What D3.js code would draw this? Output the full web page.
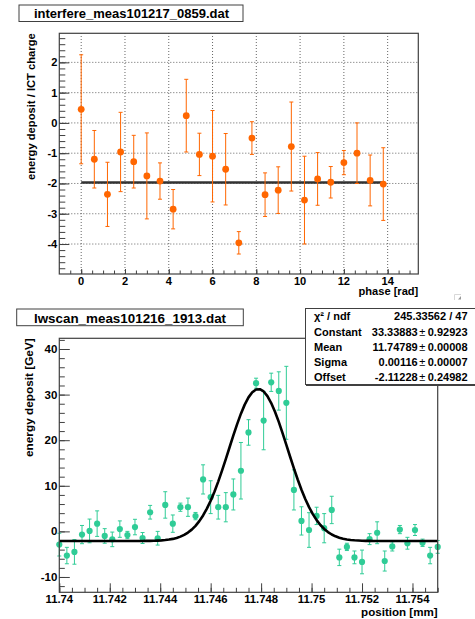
<!DOCTYPE html>
<html><head><meta charset="utf-8">
<script src="https://cdn.jsdelivr.net/npm/d3@7"></script>
<style>
body{margin:0;background:#fff}
text{font-family:"Liberation Sans",Arial,Helvetica,sans-serif;font-weight:bold;fill:#000}
</style>
</head><body>
<svg id="c" width="475" height="619"></svg>
<script>
// ---------- top panel data ----------
const topTitle = "interfere_meas101217_0859.dat";
const phase = [0,0.6,1.2,1.8,2.4,3.0,3.6,4.2,4.8,5.4,6.0,6.6,7.2,7.8,8.4,9.0,9.6,10.2,10.8,11.4,12.0,12.6,13.2,13.8];
const phaseVal = [0.45,-1.2,-2.36,-0.96,-1.28,-1.75,-1.92,-2.85,0.24,-1.04,-1.1,-1.53,-3.96,-0.5,-2.37,-2.22,-0.78,-2.55,-1.85,-1.96,-1.31,-1.0,-1.9,-2.02];
const phaseErr = [1.8,0.95,1.06,1.31,0.87,1.42,0.6,0.65,1.2,0.7,1.51,1.18,0.37,0.54,0.72,0.77,1.47,1.45,0.87,0.52,0.4,1.0,0.84,1.2];
const phaseFitLevel = -1.97;
const phaseFitRange = [0, 13.8];
const topXTicks = [0,2,4,6,8,10,12,14];
const topYTicks = [-4,-3,-2,-1,0,1,2];

// ---------- bottom panel data ----------
const botTitle = "lwscan_meas101216_1913.dat";
const position = [11.7400,11.7403,11.7406,11.7409,11.7412,11.7415,11.7418,11.7421,11.7424,11.7427,
  11.7430,11.7433,11.7436,11.7439,11.7442,11.7445,11.7448,11.7451,11.7454,11.7457,
  11.7460,11.7463,11.7466,11.7469,11.7472,11.7475,11.7478,11.7481,11.7484,11.7487,
  11.7490,11.7493,11.7496,11.7499,11.7502,11.7505,11.7508,11.7511,11.7514,11.7517,
  11.7520,11.7523,11.7526,11.7529,11.7532,11.7535,11.7538,11.7541,11.7544,11.7547,11.7550];
const energy = [-2.9,-5.3,-4.5,-0.7,0.1,1.7,-1.0,-1.75,0.5,-0.8,0.95,-1.45,4.2,-1.5,5.8,1.7,5.3,5.3,3.35,11.4,
  7.5,5.3,5.3,8.1,13.3,21.7,32.5,24.3,32.7,30.8,28.2,9.1,2.3,0.3,3.4,0.7,4.7,-5.7,-3.4,-5.7,
  -6.7,-1.7,-0.3,-6.5,-3.3,0.4,-2.6,0.3,-2.5,-5.3,-3.4];
const energyErr = [2.5,1.8,2.7,2.0,2.6,2.8,1.6,1.6,1.8,0.8,1.7,1.2,1.5,1.5,2.9,1.9,0.9,2.0,0.8,3.2,
  3.6,2.6,3.2,3.4,6.2,2.8,1.1,6.4,2.0,4.2,8.0,4.4,3.1,3.8,1.9,3.2,3.0,1.8,0.8,1.4,
  2.6,1.2,2.4,2.2,1.0,0.9,1.3,1.2,0.8,1.8,1.4];
const fitConstant = 33.33883, fitMean = 11.74789, fitSigma = 0.00116, fitOffset = -2.11228;
const statLabels = ["\u03c7\u00b2 / ndf","Constant","Mean","Sigma","Offset"];
const statValues = ["245.33562 / 47","33.33883","11.74789","0.00116","-2.11228"];
const statErrors = [null,"0.92923","0.00008","0.00007","0.24982"];
const botXTicks = [11.740,11.742,11.744,11.746,11.748,11.750,11.752,11.754];
const botXTickLabels = ["11.74","11.742","11.744","11.746","11.748","11.75","11.752","11.754"];
const botYTicks = [-10,0,10,20,30,40];

const svg = d3.select("#c");
const FR = "#404040";
const ORANGE = "#ff6600";
const TEAL = "#2fcc96";

// ================= TOP PANEL =================
const xT = d3.scaleLinear().domain([-1, 15.4]).range([59.3, 418.3]);
const yT = d3.scaleLinear().domain([-4.99, 2.96]).range([274, 33.3]);
const gT = svg.append("g");

// grid
gT.selectAll("line.gx").data(topXTicks).join("line")
  .attr("x1", d=>xT(d)).attr("x2", d=>xT(d)).attr("y1", yT.range()[0]).attr("y2", yT.range()[1])
  .attr("stroke","#555").attr("stroke-width",0.9).attr("stroke-dasharray","1 2");
gT.selectAll("line.gy").data(topYTicks).join("line")
  .attr("x1", xT.range()[0]).attr("x2", xT.range()[1]).attr("y1", d=>yT(d)).attr("y2", d=>yT(d))
  .attr("stroke","#555").attr("stroke-width",0.9).attr("stroke-dasharray","1 2");

// axes ticks
function ticks(g, axis){ g.call(axis); g.select(".domain").remove(); g.selectAll(".tick line").attr("stroke",FR); }
ticks(gT.append("g").attr("transform",`translate(0,${yT.range()[0]})`),
  d3.axisBottom(xT).tickValues(d3.range(-0.5,15.01,0.5)).tickSize(-3.5).tickFormat(""));
ticks(gT.append("g").attr("transform",`translate(0,${yT.range()[0]})`),
  d3.axisBottom(xT).tickValues(topXTicks).tickSize(-5).tickFormat(""));
ticks(gT.append("g").attr("transform",`translate(${xT.range()[0]},0)`),
  d3.axisLeft(yT).tickValues(d3.range(-4.8,2.81,0.2)).tickSize(-6).tickFormat(""));
ticks(gT.append("g").attr("transform",`translate(${xT.range()[0]},0)`),
  d3.axisLeft(yT).tickValues(topYTicks).tickSize(-10).tickFormat(""));

// tick labels
gT.selectAll("text.xl").data(topXTicks).join("text")
  .attr("x", d=>xT(d)).attr("y", 284.5).attr("text-anchor","middle").attr("font-size",11.1).text(d=>d);
gT.selectAll("text.yl").data(topYTicks).join("text")
  .attr("x", 57.3).attr("y", d=>yT(d)+4).attr("text-anchor","end").attr("font-size",11.1).text(d=>d);

// fit line
gT.append("line").attr("x1",xT(phaseFitRange[0])).attr("x2",xT(phaseFitRange[1]))
  .attr("y1",yT(phaseFitLevel)).attr("y2",yT(phaseFitLevel)).attr("stroke","#333").attr("stroke-width",2.4);

// error bars
const eT = gT.append("g").attr("stroke",ORANGE).attr("stroke-width",1);
phase.forEach((p,i)=>{
  const x = xT(p), y1 = yT(phaseVal[i]+phaseErr[i]), y2 = yT(phaseVal[i]-phaseErr[i]);
  eT.append("line").attr("x1",x).attr("x2",x).attr("y1",y1).attr("y2",y2);
  eT.append("line").attr("x1",x-2).attr("x2",x+2).attr("y1",y1).attr("y2",y1);
  eT.append("line").attr("x1",x-2).attr("x2",x+2).attr("y1",y2).attr("y2",y2);
});
gT.selectAll("circle").data(phase).join("circle")
  .attr("cx", d=>xT(d)).attr("cy",(d,i)=>yT(phaseVal[i])).attr("r",3.4).attr("fill",ORANGE);

// frame
gT.append("rect").attr("x",xT.range()[0]).attr("y",yT.range()[1])
  .attr("width",xT.range()[1]-xT.range()[0]).attr("height",yT.range()[0]-yT.range()[1])
  .attr("fill","none").attr("stroke",FR).attr("stroke-width",1.2);

// axis titles
gT.append("text").attr("x",418.3).attr("y",295).attr("text-anchor","end").attr("font-size",11.1).text("phase [rad]");
gT.append("text").attr("transform","translate(34.5,33.3) rotate(-90)").attr("text-anchor","end")
  .attr("font-size",11.2).text("energy deposit / ICT charge");

// title box
gT.append("rect").attr("x",19).attr("y",5).attr("width",224).attr("height",16.5)
  .attr("fill","#fff").attr("stroke",FR).attr("stroke-width",1);
gT.append("text").attr("x",131.5).attr("y",18.3).attr("text-anchor","middle").attr("font-size",13).text(topTitle);

// small corner mark
gT.append("path").attr("d","M454.5,300 V294.5 H461").attr("fill","none").attr("stroke","#d8d8d8");
gT.append("path").attr("d","M458,299.5 L461,296 V299.5 Z").attr("fill","#999");

// ================= BOTTOM PANEL =================
const xB = d3.scaleLinear().domain([11.74, 11.755]).range([59.3, 437.7]);
const yB = d3.scaleLinear().domain([-13.36, 42.35]).range([592.3, 338.3]);
const gB = svg.append("g");

ticks(gB.append("g").attr("transform",`translate(0,${yB.range()[0]})`),
  d3.axisBottom(xB).tickValues(d3.range(11.7400,11.75501,0.0005)).tickSize(-4.5).tickFormat(""));
ticks(gB.append("g").attr("transform",`translate(0,${yB.range()[0]})`),
  d3.axisBottom(xB).tickValues(botXTicks).tickSize(-9).tickFormat(""));
ticks(gB.append("g").attr("transform",`translate(${xB.range()[0]},0)`),
  d3.axisLeft(yB).tickValues(d3.range(-12,42.1,2)).tickSize(-5.5).tickFormat(""));
ticks(gB.append("g").attr("transform",`translate(${xB.range()[0]},0)`),
  d3.axisLeft(yB).tickValues(botYTicks).tickSize(-10.5).tickFormat(""));

gB.selectAll("text.xl").data(botXTicks).join("text")
  .attr("x", d=>xB(d)).attr("y", 603).attr("text-anchor","middle").attr("font-size",11.3)
  .text((d,i)=>botXTickLabels[i]);
gB.selectAll("text.yl").data(botYTicks).join("text")
  .attr("x", 57.3).attr("y", d=>yB(d)+4.1).attr("text-anchor","end").attr("font-size",11.5).text(d=>d);

// error bars + markers
const eB = gB.append("g").attr("stroke",TEAL).attr("stroke-width",1);
position.forEach((p,i)=>{
  const x = xB(p), y1 = yB(energy[i]+energyErr[i]), y2 = yB(energy[i]-energyErr[i]);
  eB.append("line").attr("x1",x).attr("x2",x).attr("y1",y1).attr("y2",y2);
  eB.append("line").attr("x1",x-2).attr("x2",x+2).attr("y1",y1).attr("y2",y1);
  eB.append("line").attr("x1",x-2).attr("x2",x+2).attr("y1",y2).attr("y2",y2);
});
gB.selectAll("circle").data(position).join("circle")
  .attr("cx", d=>xB(d)).attr("cy",(d,i)=>yB(energy[i])).attr("r",3.1).attr("fill",TEAL);

// fit curve (gaussian + offset, from fit parameters)
const fitX = d3.range(0,101).map(k=>xB.domain()[0] + k*(xB.domain()[1]-xB.domain()[0])/100);
const gauss = x => fitConstant*Math.exp(-0.5*Math.pow((x-fitMean)/fitSigma,2)) + fitOffset;
gB.append("path").datum(fitX)
  .attr("d", d3.line().x(d=>xB(d)).y(d=>yB(gauss(d))))
  .attr("fill","none").attr("stroke","#000").attr("stroke-width",2.6).attr("stroke-linejoin","round");

// frame
gB.append("rect").attr("x",xB.range()[0]).attr("y",yB.range()[1])
  .attr("width",xB.range()[1]-xB.range()[0]).attr("height",yB.range()[0]-yB.range()[1])
  .attr("fill","none").attr("stroke",FR).attr("stroke-width",1.2);

// axis titles
gB.append("text").attr("x",437.7).attr("y",616).attr("text-anchor","end").attr("font-size",11.6).text("position [mm]");
gB.append("text").attr("transform","translate(33,338.3) rotate(-90)").attr("text-anchor","end")
  .attr("font-size",11.8).text("energy deposit [GeV]");

// title box
gB.append("rect").attr("x",16.7).attr("y",309).attr("width",226.6).attr("height",16.7)
  .attr("fill","#fff").attr("stroke",FR).attr("stroke-width",1);
gB.append("text").attr("x",130).attr("y",322.6).attr("text-anchor","middle").attr("font-size",13.4).text(botTitle);

// stats box
gB.append("rect").attr("x",305.5).attr("y",308.5).attr("width",172).attr("height",76)
  .attr("fill","#fff").attr("stroke",FR).attr("stroke-width",1);
gB.append("line").attr("x1",306).attr("x2",476).attr("y1",385.3).attr("y2",385.3).attr("stroke",FR).attr("stroke-width",1.2);
const statBase = [320,335.5,350.7,366,381];
statLabels.forEach((s,i)=>{
  gB.append("text").attr("x",314).attr("y",statBase[i]).attr("font-size",11).text(s);
  const t = gB.append("text").attr("x",467.5).attr("y",statBase[i]).attr("text-anchor","end").attr("font-size",11);
  if(statErrors[i]===null){ t.text(statValues[i]); }
  else {
    t.append("tspan").text(statValues[i]);
    t.append("tspan").attr("font-weight","normal").attr("dx",1.5).text("\u00b1");
    t.append("tspan").attr("dx",2.5).text(statErrors[i]);
  }
});
</script>
</body></html>
